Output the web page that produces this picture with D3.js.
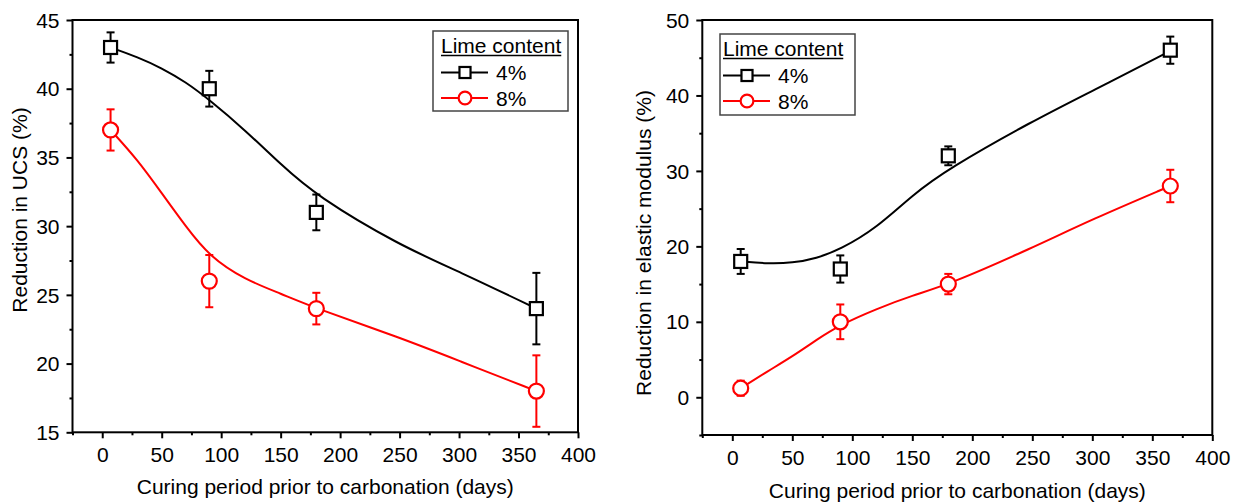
<!DOCTYPE html>
<html>
<head>
<meta charset="utf-8">
<script src="https://cdn.jsdelivr.net/npm/d3@7"></script>
<style>
body { margin: 0; background: #fff; }
svg { display: block; font-family: "Liberation Sans", Arial, sans-serif; }
</style>
</head>
<body>
<svg id="chart" width="1240" height="503"></svg>
<script>
// Data
const days = [7, 90, 180, 365]
const seriesNames = ['4%', '8%']

const ucs4 = [43, 40, 31, 24]
const ucs4Err = [1.1, 1.3, 1.3, 2.6]
const ucs8 = [37, 26, 24, 18]
const ucs8Err = [1.5, 1.9, 1.15, 2.6]

const mod4 = [18, 17, 32, 46]
const mod4Err = [1.65, 1.8, 1.25, 1.8]
const mod8 = [1.2, 10, 15, 28]
const mod8Err = [1.0, 2.3, 1.35, 2.15]

// smooth fitted curves
const fitDays = [7, 30, 50, 70, 90, 120, 150, 180, 250, 300, 365]
const ucs4Fit = [43.0, 42.3, 41.5, 40.5, 39.2, 37.0, 34.5, 32.2, 28.6, 26.7, 24.0]
const ucs8Fit = [37.0, 34.8, 32.4, 30.0, 27.8, 26.1, 25.1, 24.0, 21.9, 20.2, 18.0]
const mod4Fit = [18.0, 17.7, 17.8, 18.4, 19.6, 22.4, 26.8, 30.3, 36.6, 40.6, 45.9]
const mod8Fit = [1.2, 3.5, 5.4, 7.6, 9.6, 11.7, 13.5, 14.9, 19.8, 23.6, 28.0]

// Ticks
const xTicks = [0, 50, 100, 150, 200, 250, 300, 350, 400]
const xMinor = [-25, 25, 75, 125, 175, 225, 275, 325, 375]
const ucsTicks = [15, 20, 25, 30, 35, 40, 45]
const ucsMinor = [17.5, 22.5, 27.5, 32.5, 37.5, 42.5]
const modTicks = [0, 10, 20, 30, 40, 50]
const modMinor = [-5, 5, 15, 25, 35, 45]

const xTitle = 'Curing period prior to carbonation (days)'
const legendTitle = 'Lime content'
const colors = ['#000000', '#ff0000']

const svg = d3.select('#chart')

const styleAxis = (g, fontSize) => {
    g.select('.domain').remove()
    g.selectAll('line').attr('stroke', '#000').attr('stroke-width', 2)
    g.selectAll('text').attr('fill', '#000').style('font-size', fontSize + 'px')
        .style('font-family', '"Liberation Sans", Arial, sans-serif')
}

const drawMarker = (g, k, cx, cy, s) => {
    if (k === 0) {
        const a = 13 * s
        g.append('rect')
            .attr('x', cx - a / 2).attr('y', cy - a / 2).attr('width', a).attr('height', a)
            .attr('fill', '#fff').attr('stroke', colors[k]).attr('stroke-width', 2.2)
    } else {
        g.append('circle')
            .attr('cx', cx).attr('cy', cy).attr('r', 7.5 * s)
            .attr('fill', '#fff').attr('stroke', colors[k]).attr('stroke-width', 2.2)
    }
}

const drawPanel = p => {
    // Scale
    const x = d3.scaleLinear().domain([-25, 400]).range([p.left, p.right])
    const y = d3.scaleLinear().domain(p.yDomain).range([p.bottom, p.top])

    const g = svg.append('g')

    // Axes
    g.append('g').attr('transform', `translate(0,${p.bottom})`)
        .call(d3.axisBottom(x).tickValues(xMinor).tickSize(3).tickFormat(''))
        .call(a => styleAxis(a, 21))
    g.append('g').attr('transform', `translate(0,${p.bottom})`)
        .call(d3.axisBottom(x).tickValues(xTicks).tickSize(6).tickPadding(p.xPad))
        .call(a => styleAxis(a, 21))
    g.append('g').attr('transform', `translate(${p.left},0)`)
        .call(d3.axisLeft(y).tickValues(p.yMinor).tickSize(3).tickFormat(''))
        .call(a => styleAxis(a, 21))
    g.append('g').attr('transform', `translate(${p.left},0)`)
        .call(d3.axisLeft(y).tickValues(p.yTicks).tickSize(6).tickPadding(7))
        .call(a => styleAxis(a, 21))
        .selectAll('text').attr('dy', '0.34em')

    // Frame
    g.append('rect')
        .attr('x', p.left).attr('y', p.top)
        .attr('width', p.right - p.left).attr('height', p.bottom - p.top)
        .attr('fill', 'none').attr('stroke', '#000').attr('stroke-width', 2)

    // Titles
    g.append('text')
        .attr('x', (p.left + p.right) / 2).attr('y', p.xTitleY)
        .attr('text-anchor', 'middle').style('font-size', '21px')
        .text(xTitle)
    g.append('text')
        .attr('transform', `translate(${p.yTitleX},${p.yTitleY}) rotate(-90)`)
        .attr('text-anchor', 'middle').style('font-size', '21px')
        .text(p.yTitle)

    const line = d3.line().x((d, i) => x(fitDays[i])).y(d => y(d)).curve(d3.curveBasis)

    p.series.forEach((s, k) => {
        g.append('path').datum(s.fit)
            .attr('d', line)
            .attr('fill', 'none').attr('stroke', colors[k]).attr('stroke-width', 2)

        // Error bars
        const eb = g.append('g').attr('stroke', colors[k]).attr('stroke-width', 2)
        s.values.forEach((v, i) => {
            const cx = x(days[i])
            const y1 = y(v + s.err[i]), y2 = y(v - s.err[i])
            eb.append('line').attr('x1', cx).attr('x2', cx).attr('y1', y1).attr('y2', y2)
            eb.append('line').attr('x1', cx - 4).attr('x2', cx + 4).attr('y1', y1).attr('y2', y1)
            eb.append('line').attr('x1', cx - 4).attr('x2', cx + 4).attr('y1', y2).attr('y2', y2)
        })

        // Markers
        s.values.forEach((v, i) => drawMarker(g, k, x(days[i]), y(v), 1))
    })

    // Legend
    const L = p.legend
    const lg = g.append('g')
    lg.append('rect')
        .attr('x', L.x).attr('y', L.y).attr('width', L.w).attr('height', L.h)
        .attr('fill', '#fff').attr('stroke', '#444').attr('stroke-width', 1.5)
    const t = lg.append('text')
        .attr('x', L.tx).attr('y', L.y + 22).style('font-size', '21px')
        .text(legendTitle)
    const tw = t.node().getComputedTextLength()
    lg.append('line')
        .attr('x1', L.tx).attr('x2', L.tx + tw)
        .attr('y1', L.y + 24.5).attr('y2', L.y + 24.5)
        .attr('stroke', '#000').attr('stroke-width', 1.5)
    seriesNames.forEach((name, k) => {
        const cy = L.y + 41.5 + k * 25.5
        lg.append('line')
            .attr('x1', L.tx).attr('x2', L.tx + 47).attr('y1', cy).attr('y2', cy)
            .attr('stroke', colors[k]).attr('stroke-width', 2)
        drawMarker(lg, k, L.tx + 24, cy, 0.85)
        lg.append('text')
            .attr('x', L.tx + 55).attr('y', cy + 7.5).style('font-size', '21px')
            .text(name)
    })
}

drawPanel({
    left: 72.5, right: 578, top: 20, bottom: 432.3,
    yDomain: [15, 45], yTicks: ucsTicks, yMinor: ucsMinor,
    xPad: 8.5, xTitleY: 494,
    yTitle: 'Reduction in UCS (%)', yTitleX: 27, yTitleY: 210,
    series: [
        { values: ucs4, err: ucs4Err, fit: ucs4Fit },
        { values: ucs8, err: ucs8Err, fit: ucs8Fit }
    ],
    legend: { x: 433, y: 31, w: 135, h: 80, tx: 441 }
})

drawPanel({
    left: 702.3, right: 1212.3, top: 20, bottom: 435,
    yDomain: [-5, 50], yTicks: modTicks, yMinor: modMinor,
    xPad: 9, xTitleY: 498,
    yTitle: 'Reduction in elastic modulus (%)', yTitleX: 651, yTitleY: 243,
    series: [
        { values: mod4, err: mod4Err, fit: mod4Fit },
        { values: mod8, err: mod8Err, fit: mod8Fit }
    ],
    legend: { x: 720, y: 34, w: 135, h: 81, tx: 723 }
})
</script>
</body>
</html>
